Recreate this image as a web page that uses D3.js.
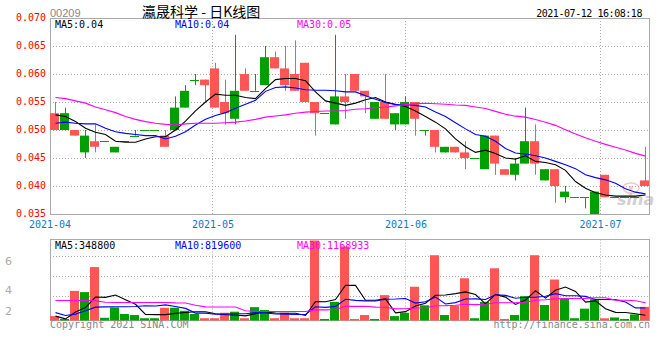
<!DOCTYPE html>
<html><head><meta charset="utf-8">
<script src="https://cdn.jsdelivr.net/npm/d3@7/dist/d3.min.js"></script>
<style>body{margin:0;background:#fff}svg{display:block}</style>
</head><body><svg id="chart" width="660" height="360"></svg>
<script>
// ---------------- data ----------------
const days = d3.range(1, 61); // trading-day index, 2021-04 .. 2021-07-12
const opens  = [.053,.050,.050,.046,.048,.048,.046,.048,.049,.050,.050,.049,.050,.054,.059,.059,.061,.055,.052,.060,.057,.058,.063,.061,.060,.062,.055,.053,.051,.056,.060,.057,.052,.055,.051,.051,.055,.050,.050,.046,.047,.046,.045,.043,.049,.043,.042,.044,.048,.041,.043,.038,.038,.038,.035,.042,.038,.038,.038,.041];
const highs  = [.055,.054,.050,.050,.051,.048,.047,.048,.050,.050,.050,.050,.056,.058,.060,.059,.062,.059,.067,.061,.060,.065,.064,.065,.066,.062,.055,.053,.067,.060,.060,.057,.055,.060,.053,.056,.055,.050,.050,.047,.047,.048,.045,.049,.049,.043,.045,.054,.051,.043,.043,.040,.038,.038,.039,.042,.038,.038,.038,.047];
const lows   = [.050,.050,.049,.045,.046,.048,.046,.048,.049,.050,.050,.047,.050,.054,.058,.055,.054,.051,.051,.057,.057,.058,.061,.057,.057,.055,.049,.053,.051,.052,.057,.053,.052,.052,.050,.051,.049,.049,.046,.046,.046,.043,.045,.043,.042,.042,.041,.044,.042,.041,.037,.037,.038,.036,.035,.038,.038,.038,.038,.040];
const closes = [.050,.053,.049,.049,.047,.048,.047,.048,.049,.050,.050,.047,.054,.057,.059,.058,.054,.053,.057,.057,.057,.063,.061,.058,.057,.055,.053,.053,.056,.055,.057,.056,.055,.052,.053,.055,.052,.050,.047,.047,.046,.045,.045,.049,.044,.042,.044,.048,.044,.043,.040,.039,.038,.038,.039,.038,.038,.038,.038,.040];
const ma5  = [.0527,.0524,.0515,.0503,.0496,.0492,.0480,.0478,.0478,.0484,.0488,.0488,.0500,.0516,.0534,.0550,.0564,.0562,.0562,.0558,.0556,.0574,.0590,.0592,.0592,.0588,.0568,.0552,.0548,.0544,.0548,.0554,.0558,.0550,.0546,.0542,.0534,.0524,.0514,.0502,.0484,.0470,.0460,.0464,.0458,.0450,.0448,.0454,.0444,.0442,.0438,.0428,.0408,.0396,.0388,.0384,.0382,.0382,.0382,.0384];
const ma10 = [.0512,.0514,.0512,.0511,.0511,.0503,.0497,.0494,.0492,.0490,.0490,.0484,.0489,.0497,.0509,.0519,.0526,.0531,.0539,.0546,.0553,.0569,.0576,.0577,.0575,.0572,.0571,.0571,.0570,.0568,.0568,.0561,.0555,.0549,.0545,.0545,.0544,.0541,.0532,.0524,.0513,.0502,.0492,.0489,.0480,.0467,.0459,.0457,.0454,.0450,.0444,.0438,.0431,.0420,.0415,.0411,.0405,.0395,.0389,.0386];
const ma30 = [.0558,.0556,.0552,.0548,.0541,.0536,.0531,.0524,.0519,.0515,.0512,.0510,.0509,.0511,.0512,.0512,.0512,.0513,.0514,.0516,.0519,.0523,.0525,.0527,.0530,.0532,.0533,.0534,.0534,.05347,.05370,.05380,.05400,.05410,.05430,.05453,.05470,.05477,.05470,.05460,.05447,.05440,.05410,.05383,.05333,.05280,.05247,.05230,.05187,.05140,.05083,.05003,.04927,.04860,.04800,.04743,.04693,.04643,.04583,.04533];
const volumes = [290000,100000,1950000,1870000,3520000,180000,860000,430000,360000,150000,150000,840000,840000,640000,430000,150000,150000,510000,580000,150000,880000,690000,150000,510000,150000,150000,5270000,100000,1230000,4880000,100000,360000,100000,1670000,290000,510000,2222000,1000000,4300000,360000,980000,2780000,150000,1230000,3440000,100000,360000,1600000,4300000,1020000,2700000,1420000,150000,780000,1402000,144000,200000,100000,400000,900000];
const volMa5  = [290000,110000,560000,850000,1546000,1524000,1676000,1372000,1070000,396000,390000,386000,468000,524000,580000,580000,442000,376000,364000,308000,454000,562000,490000,476000,476000,330000,1246000,1236000,1380000,2326000,2316000,1334000,1334000,1422000,504000,586000,958000,1138000,1664000,1678000,1772000,1884000,1714000,1100000,1716000,1540000,1056000,1346000,1960000,1476000,1996000,2208000,1918000,1214000,1290000,779000,535000,525000,449000,348800];
const volMa10 = [520000,330000,420000,640000,880000,900000,905000,910000,920000,971000,957000,1031000,920000,797000,488000,485000,414000,422000,444000,444000,517000,502000,433000,420000,392000,392000,904000,863000,928000,1401000,1323000,1290000,1285000,1401000,1415000,1451000,1146000,1236000,1543000,1091000,1179000,1421000,1426000,1382000,1697000,1656000,1470000,1530000,1530000,1596000,1768000,1632000,1632000,1587000,1383000,1388000,1372000,1222000,832000,819600];
const volMa30 = [1320000,1320000,1320000,1330000,1290000,1200000,1190000,1190000,1190000,1190000,1190000,1190000,1160000,1150000,1000000,900000,890000,885000,885000,640000,600000,590000,590000,590000,590000,590000,700000,700000,720000,938700,932300,941000,879300,872700,765000,776000,821400,840400,971700,978700,1006400,1071100,1048100,1067700,1168100,1166400,1173400,1209700,1333700,1362700,1423400,1447700,1447700,1456700,1498500,1498300,1329300,1329300,1301600,1168933];
const priceTicks = [0.035,0.040,0.045,0.050,0.055,0.060,0.065,0.070];
const monthLabels = ["2021-04","2021-05","2021-06","2021-07"];
const monthAt = [0, 16.2, 35.5, 54.95]; // trading-day position of month start
const volTickLabels = ["6","4","2"];
const priceLegend = [["MA5:","0.04"],["MA10:","0.04"],["MA30:","0.05"]];
const volLegend = [["MA5:","348800"],["MA10:","819600"],["MA30:","1168933"]];
const stockCode = "00209";
const title = "瀛晟科学 - 日K线图";
const stamp = "2021-07-12 16:08:18";

// ---------------- layout ----------------
const L = 50, R = 650, T = 18, B = 214;      // price panel
const VT = 239.5, VB = 320.5;                // volume panel
const RED = "#ff5555", GREEN = "#00a000";
const MONO = "'DejaVu Sans Mono', monospace";
const svg = d3.select("#chart");

const x = d3.scaleBand().domain(d3.range(60)).range([L, R]).paddingInner(0.1).paddingOuter(0.05);
const xPos = d3.scaleLinear().domain([0, 60]).range([L, R]);
const y = d3.scaleLinear().domain([0.035, 0.070]).range([B, T]);
const yv = d3.scaleLinear().domain([0, d3.max(volumes)]).range([VB, VT + 1]);
const cx = i => Math.floor(x(i) + x.bandwidth() / 2) + 0.5;
const colorOf = i => closes[i] < opens[i] ? RED : GREEN;

// ---- price panel frame & grid ----
const g = svg.append("g");
g.selectAll("line.hg").data(priceTicks.slice(1, -1)).join("line")
  .attr("x1", L).attr("x2", R).attr("y1", d => Math.round(y(d)) + 0.5).attr("y2", d => Math.round(y(d)) + 0.5)
  .attr("stroke", "#aaa").attr("stroke-dasharray", "1,2");
g.selectAll("line.vg").data(monthAt.slice(1)).join("line")
  .attr("x1", d => Math.round(xPos(d)) + 0.5).attr("x2", d => Math.round(xPos(d)) + 0.5).attr("y1", T).attr("y2", B)
  .attr("stroke", "#aaa").attr("stroke-dasharray", "1,2");
g.append("rect").attr("x", L + 0.5).attr("y", T + 0.5).attr("width", R - L - 1).attr("height", B - T)
  .attr("fill", "none").attr("stroke", "#aaa");

// y labels
g.selectAll("text.yl").data(priceTicks).join("text")
  .attr("x", 46).attr("y", d => y(d) + 2.5).attr("text-anchor", "end")
  .attr("font-family", MONO).attr("font-size", 10).attr("fill", "#ff0000").text(d3.format(".3f"));
// x labels
g.selectAll("text.xl").data(monthLabels).join("text")
  .attr("x", (d, i) => xPos(monthAt[i]) + (i === 0 ? 0 : 1)).attr("y", 227.5).attr("text-anchor", "middle")
  .attr("font-family", MONO).attr("font-size", 10).attr("fill", "#1177cc").text(d => d);

// watermark
const wm = g.append("g").attr("opacity", 0.45);
wm.append("ellipse").attr("cx", 631).attr("cy", 188).attr("rx", 8).attr("ry", 5).attr("fill", "none").attr("stroke", "#f08080").attr("stroke-width", 1.5);
wm.append("circle").attr("cx", 631).attr("cy", 188).attr("r", 2).attr("fill", "#f08080");
wm.append("text").attr("x", 617).attr("y", 205).attr("font-family", "'DejaVu Sans', sans-serif").attr("font-style", "italic").attr("font-weight", "bold").attr("font-size", 16).attr("fill", "#999").text("sina");

// candles
const cg = g.append("g");
days.forEach((d, i) => {
  const col = colorOf(i);
  cg.append("line").attr("x1", cx(i)).attr("x2", cx(i)).attr("y1", y(highs[i])).attr("y2", y(lows[i])).attr("stroke", col);
  const top = y(Math.max(opens[i], closes[i])), bot = y(Math.min(opens[i], closes[i]));
  if (bot - top < 1) {
    cg.append("line").attr("x1", Math.floor(x(i))).attr("x2", Math.floor(x(i)) + x.bandwidth())
      .attr("y1", Math.round(top) + 0.5).attr("y2", Math.round(top) + 0.5).attr("stroke", col);
  } else {
    cg.append("rect").attr("x", Math.floor(x(i))).attr("width", x.bandwidth()).attr("y", top).attr("height", bot - top).attr("fill", col);
  }
});

// MA lines
const lineP = d3.line().x((d, i) => cx(i)).y(d => y(d));
[[ma5, "#000"], [ma10, "#0000ff"], [ma30, "#ff00ff"]].forEach(([s, c]) => {
  g.append("path").attr("d", lineP(s)).attr("fill", "none").attr("stroke", c).attr("stroke-width", 1.1);
});

// legend row
const legendX = [55, 175, 297], legendCol = ["#000", "#0000ff", "#ff00ff"];
priceLegend.forEach((p, i) => {
  g.append("text").attr("x", legendX[i]).attr("y", 28).attr("font-family", MONO).attr("font-size", 10)
    .attr("fill", legendCol[i]).text(p[0] + p[1]);
});

// header
svg.append("text").attr("x", 50).attr("y", 17).attr("font-family", "'Liberation Sans', Arial, sans-serif").attr("font-size", 11).attr("fill", "#888").text(stockCode);
svg.append("text").attr("x", 142).attr("y", 16.5).attr("font-family", "'Noto Sans CJK SC', sans-serif").attr("font-size", 14).attr("fill", "#000").text(title);
svg.append("text").attr("x", 642).attr("y", 16.5).attr("text-anchor", "end").attr("font-family", MONO).attr("font-size", 10).attr("letter-spacing", -0.45).attr("fill", "#000").text(stamp);

// ---- volume panel ----
const v = svg.append("g");
const volGrid = [16, 36, 56];
v.selectAll("line.hg").data(volGrid).join("line")
  .attr("x1", L).attr("x2", R).attr("y1", d => Math.round(VT + d) + 0.5).attr("y2", d => Math.round(VT + d) + 0.5)
  .attr("stroke", "#aaa").attr("stroke-dasharray", "1,2");
v.selectAll("line.vg").data(monthAt.slice(1)).join("line")
  .attr("x1", d => Math.round(xPos(d)) + 0.5).attr("x2", d => Math.round(xPos(d)) + 0.5).attr("y1", VT).attr("y2", VB)
  .attr("stroke", "#aaa").attr("stroke-dasharray", "1,2");
v.append("rect").attr("x", L + 0.5).attr("y", VT).attr("width", R - L - 1).attr("height", VB - VT)
  .attr("fill", "none").attr("stroke", "#aaa");

v.selectAll("rect.vb").data(volumes).join("rect")
  .attr("x", (d, i) => Math.floor(x(i))).attr("width", x.bandwidth())
  .attr("y", d => Math.min(yv(d), VB - 1.5)).attr("height", d => Math.max(VB - yv(d), 1.5))
  .attr("fill", (d, i) => colorOf(i));

const lineV = d3.line().x((d, i) => cx(i)).y(d => yv(d));
[[volMa5, "#000"], [volMa10, "#0000ff"], [volMa30, "#ff00ff"]].forEach(([s, c]) => {
  v.append("path").attr("d", lineV(s)).attr("fill", "none").attr("stroke", c).attr("stroke-width", 1.1);
});

volLegend.forEach((p, i) => {
  v.append("text").attr("x", legendX[i]).attr("y", 249).attr("font-family", MONO).attr("font-size", 10)
    .attr("fill", legendCol[i]).text(p[0] + p[1]);
});
const volLabelY = [264.5, 294, 314.5];
v.selectAll("text.vl").data(volTickLabels).join("text")
  .attr("x", 5).attr("y", (d, i) => volLabelY[i]).attr("font-family", "'DejaVu Sans', sans-serif").attr("font-size", 11).attr("fill", "#aaa").text(d => d);

// footer
svg.append("text").attr("x", 50).attr("y", 327.5).attr("font-family", MONO).attr("font-size", 10).attr("fill", "#888").text("Copyright 2021 SINA.COM");
svg.append("text").attr("x", 650).attr("y", 327.5).attr("text-anchor", "end").attr("font-family", MONO).attr("font-size", 10).attr("fill", "#888").text("http://finance.sina.com.cn");
</script>
</body></html>
